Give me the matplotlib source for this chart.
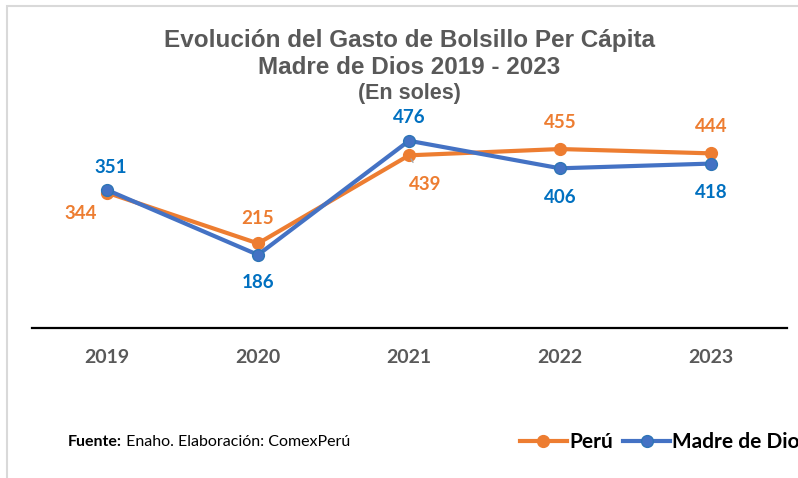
import matplotlib.pyplot as plt
from matplotlib.patches import Rectangle
from matplotlib.lines import Line2D

years = ['2019', '2020', '2021', '2022', '2023']
peru = [344, 215, 439, 455, 444]
madre = [351, 186, 476, 406, 418]

# label offsets in points (dx, dy)
peru_off = [(-19, -15), (0, 18), (12, -21), (0, 19), (0, 19)]
madre_off = [(3, 16), (0, -20), (0, 17), (0, -21), (0, -21)]

ORANGE = '#ED7D31'
BLUE = '#4472C4'
BLUE_TXT = '#0070C0'
GRAY = '#595959'

fig = plt.figure(figsize=(7.98, 4.78), dpi=100)
ax = fig.add_axes([31.5 / 798, 150 / 478, 755 / 798, 236 / 478])

x = range(len(years))
ax.plot(x, peru, color=ORANGE, lw=3, marker='o', ms=8.5, mfc=ORANGE, mec=ORANGE,
        solid_capstyle='round', zorder=3)
ax.plot(x, madre, color=BLUE, lw=3, marker='o', ms=8.5, mfc=BLUE, mec='#2E75B6',
        solid_capstyle='round', zorder=4)

for i, v in enumerate(peru):
    dx, dy = peru_off[i]
    kw = {}
    if i == 2:
        kw = dict(arrowprops=dict(arrowstyle='-', color='#A6A6A6', lw=1,
                                  shrinkA=9, shrinkB=3))
    ax.annotate(str(v), (i, v), xytext=(dx, dy), textcoords='offset points',
                ha='center', va='center', color=ORANGE, fontsize=13.5,
                fontweight='bold', family='Lato', **kw)
for i, v in enumerate(madre):
    dx, dy = madre_off[i]
    ax.annotate(str(v), (i, v), xytext=(dx, dy), textcoords='offset points',
                ha='center', va='center', color=BLUE_TXT, fontsize=13.5,
                fontweight='bold', family='Lato')

ax.set_xlim(-0.5, 4.5)
ax.set_ylim(0, 600)
ax.set_xticks(list(x))
ax.set_xticklabels(years, color=GRAY, fontsize=14, fontweight='bold', family='Lato')
ax.tick_params(axis='x', length=0, pad=15)
ax.set_yticks([])
for s in ['left', 'right', 'top']:
    ax.spines[s].set_visible(False)
ax.spines['bottom'].set_color('black')
ax.spines['bottom'].set_linewidth(1.6)
ax.patch.set_alpha(0)

fig.text(0.513, 1 - 40 / 478, 'Evolución del Gasto de Bolsillo Per Cápita', ha='center',
         va='center', fontsize=17.5, fontweight='bold', color=GRAY, family='Liberation Sans')
fig.text(0.513, 1 - 67 / 478, 'Madre de Dios 2019 - 2023', ha='center',
         va='center', fontsize=17.5, fontweight='bold', color=GRAY, family='Liberation Sans')
fig.text(0.513, 1 - 93 / 478, '(En soles)', ha='center',
         va='center', fontsize=15.5, fontweight='bold', color=GRAY, family='Liberation Sans')

t1 = fig.text(68 / 798, 1 - 442 / 478, 'Fuente:', ha='left', va='center',
              fontsize=11.5, fontweight='bold', color='black', family='Lato')
ax.annotate(' Enaho. Elaboración: ComexPerú', xy=(1, 0.5), xycoords=t1,
            va='center', ha='left', fontsize=11.5, color='black', family='Lato',
            annotation_clip=False)

# legend runs off the right edge, as in the original
handles = [Line2D([], [], color=ORANGE, lw=3, marker='o', ms=8.5, mec=ORANGE),
           Line2D([], [], color=BLUE, lw=3, marker='o', ms=8.5, mec='#2E75B6')]
fig.legend(handles, ['Perú', 'Madre de Dios'], loc='center left',
           bbox_to_anchor=(520 / 798, 1 - 442 / 478), ncol=2, frameon=False,
           prop=dict(family='Lato', weight='bold', size=15),
           handlelength=2.25, handletextpad=0.1, columnspacing=0.5, borderpad=0,
           borderaxespad=0)

fig.add_artist(Rectangle((7 / 798, -0.1), 1.2, 1 - 6 / 478 + 0.1,
                         transform=fig.transFigure, fill=False,
                         edgecolor='#D9D9D9', lw=1.5))

fig.savefig('out.png', dpi=100)
